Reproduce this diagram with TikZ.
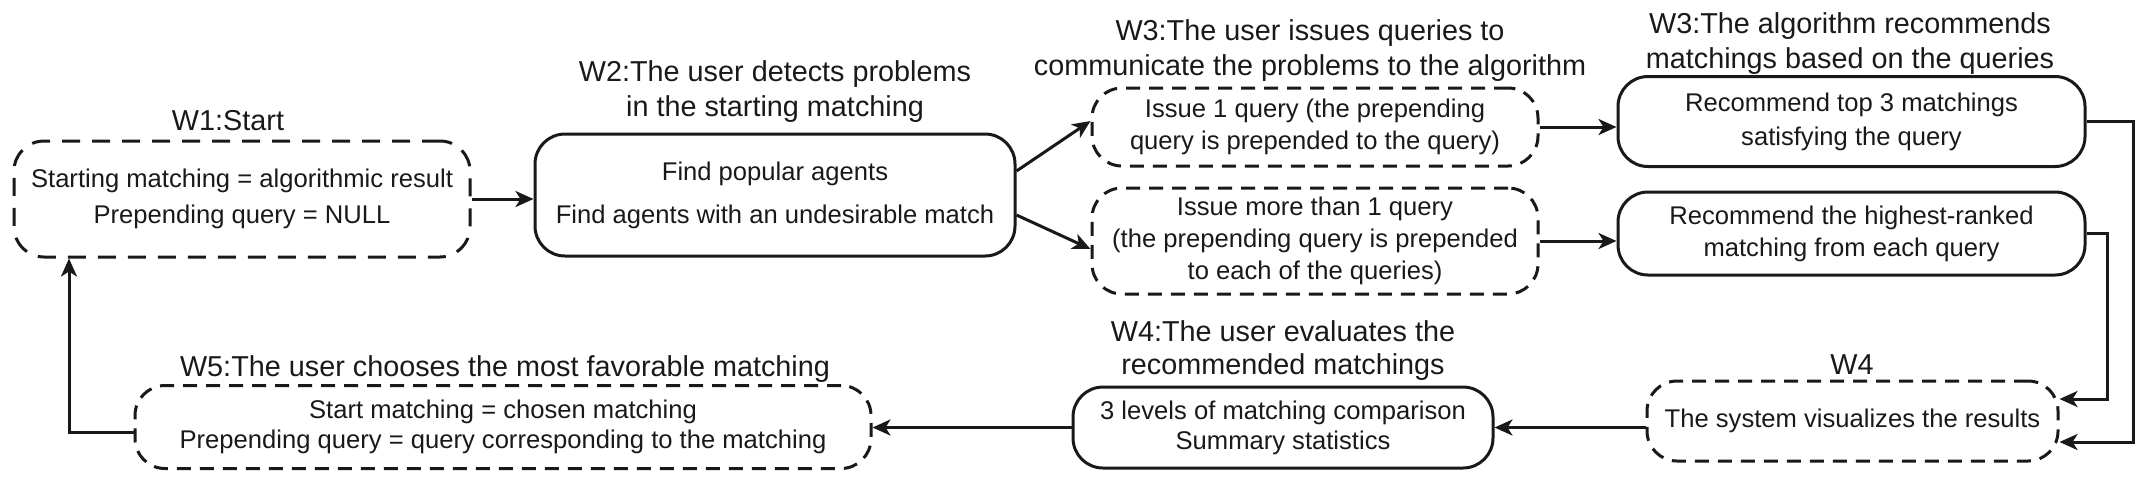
\documentclass[tikz,border=0pt]{standalone}
\usepackage{fontspec}
\setmainfont{Liberation Sans}
\usetikzlibrary{arrows.meta,calc}
\begin{document}
\begin{tikzpicture}[x=0.5pt,y=-0.5pt,
  solidbox/.style={draw=black!90, line width=1.5pt, rounded corners=15pt, align=center, inner sep=0pt, font=\fontsize{12.8}{16}\selectfont, text=black!90},
  dashbox/.style={solidbox, dash pattern=on 7pt off 4.5pt},
  widedash/.style={dash pattern=on 9pt off 6pt},
  lab/.style={align=center, inner sep=0pt, font=\fontsize{14.4}{17.5}\selectfont, text=black!90},
  conn/.style={draw=black!90, line width=1.5pt, -{Stealth[length=9pt,width=8pt,inset=2.5pt]}}]
\useasboundingbox (0,0) rectangle (2151,479);

% boxes
\node[dashbox, widedash, minimum width=228pt, minimum height=58pt] (w1) at (242,199) {Starting matching = algorithmic result\\[2pt]Prepending query = NULL};
\node[solidbox, minimum width=240pt, minimum height=61pt] (w2) at (775,195) {Find popular agents\\[5.5pt]Find agents with an undesirable match};
\node[dashbox, minimum width=223pt, minimum height=39pt] (w3a) at (1315,127) {Issue 1 query (the prepending\\query is prepended to the query)};
\node[dashbox, minimum width=223pt, minimum height=53pt] (w3b) at (1315,241) {Issue more than 1 query\\(the prepending query is prepended\\to each of the queries)};
\node[solidbox, minimum width=233.5pt, minimum height=45pt] (r1) at (1851.5,121.5) {Recommend top 3 matchings\\[1pt]satisfying the query};
\node[solidbox, minimum width=233.5pt, minimum height=41.5pt] (r2) at (1851.5,233.5) {Recommend the highest-ranked\\matching from each query};
\node[dashbox, minimum width=205.5pt, minimum height=40pt] (w4) at (1852.5,421) {The system visualizes the results};
\node[solidbox, minimum width=210pt, minimum height=40.5pt, font=\fontsize{12.8}{15}\selectfont] (e) at (1283,427.5) {3 levels of matching comparison\\Summary statistics};
\node[dashbox, minimum width=368pt, minimum height=41.5pt, font=\fontsize{12.8}{15}\selectfont] (w5) at (503,427) {Start matching = chosen matching\\Prepending query = query corresponding to the matching};

% labels
\node[lab] (l1) at (228,121) {W1:Start};
\node[lab] (l2) at (775,92) {W2:The user detects problems\\in the starting matching};
\node[lab] (l3) at (1310,51) {W3:The user issues queries to\\communicate the problems to the algorithm};
\node[lab] (l3b) at (1850,44) {W3:The algorithm recommends\\matchings based on the queries};
\node[lab] (l4) at (1852,365) {W4};
\node[lab, font=\fontsize{14.4}{16.5}\selectfont] (l4b) at (1283,351) {W4:The user evaluates the\\recommended matchings};
\node[lab] (l5) at (505,369) {W5:The user chooses the most favorable matching};

% connector bends
\coordinate (c1) at (2133,0);
\coordinate (c2) at (2107,0);
\coordinate (c3) at (69,0);

% connectors
\draw[conn] (w1.east) -- (w1.east -| w2.west);
\draw[conn] ([yshift=12pt]w2.east) -- ([yshift=3pt]w3a.west);
\draw[conn] ([yshift=-10pt]w2.east) -- ([yshift=-4pt]w3b.west);
\draw[conn] (w3a.east) -- (w3a.east -| r1.west);
\draw[conn] (w3b.east) -- (w3b.east -| r2.west);
\draw[conn] (r1.east) -- (r1.east -| c1) |- ([yshift=-10.5pt]w4.east);
\draw[conn] (r2.east) -- (r2.east -| c2) |- ([yshift=11pt]w4.east);
\draw[conn] (w4.west |- e.east) -- (e.east);
\draw[conn] (e.west) -- (e.west -| w5.east);
\draw[conn] ([yshift=-2.5pt]w5.west) -| (c3 |- w1.south);
\end{tikzpicture}
\end{document}
